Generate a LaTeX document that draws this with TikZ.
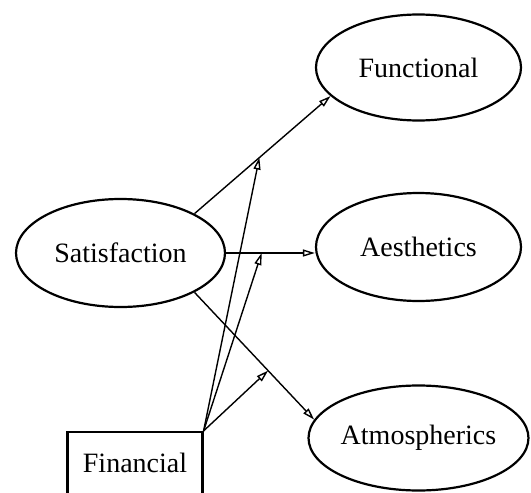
\documentclass[tikz,border=0pt]{standalone}
\usepackage{fontspec}
\setmainfont{Liberation Serif}
\usetikzlibrary{shapes.geometric,arrows.meta}
\begin{document}
\begin{tikzpicture}[x=1pt,y=-1pt,
  every node/.style={font=\fontsize{28}{32}\selectfont, inner sep=0pt},
  oval/.style={ellipse, draw, line width=2.2pt, minimum width=205pt, minimum height=106pt},
  box/.style={rectangle, draw, line width=2.2pt, minimum width=135pt, minimum height=62pt},
  conn/.style={line width=1.4pt, -{Triangle[open,length=12pt,width=7pt]}}]
\useasboundingbox (0,0) rectangle (531,493);
\clip (0,0) rectangle (531,493);
\node[oval] (func) at (418.5,67.5) {Functional};
\node[oval, minimum height=108pt] (aes) at (418.5,247) {Aesthetics};
\node[oval, minimum height=105pt] (atm) at (418.5,438) {Atmospherics};
\node[oval, minimum width=209pt, minimum height=108pt] (sat) at (120.5,253) {Satisfaction};
\node[box] (fin) at (135,463) {Financial};
\draw[conn] (sat.28) -- coordinate[pos=0.477] (m1) (func.198);
\draw[conn] (sat.east) -- coordinate[pos=0.40] (m2) (sat.east -| aes.west);
\draw[conn] (sat.332) -- coordinate[pos=0.615] (m3) (atm.170);
\draw[conn] (fin.north east) -- (m1);
\draw[conn] (fin.north east) -- (m2);
\draw[conn] (fin.north east) -- (m3);
\end{tikzpicture}
\end{document}
